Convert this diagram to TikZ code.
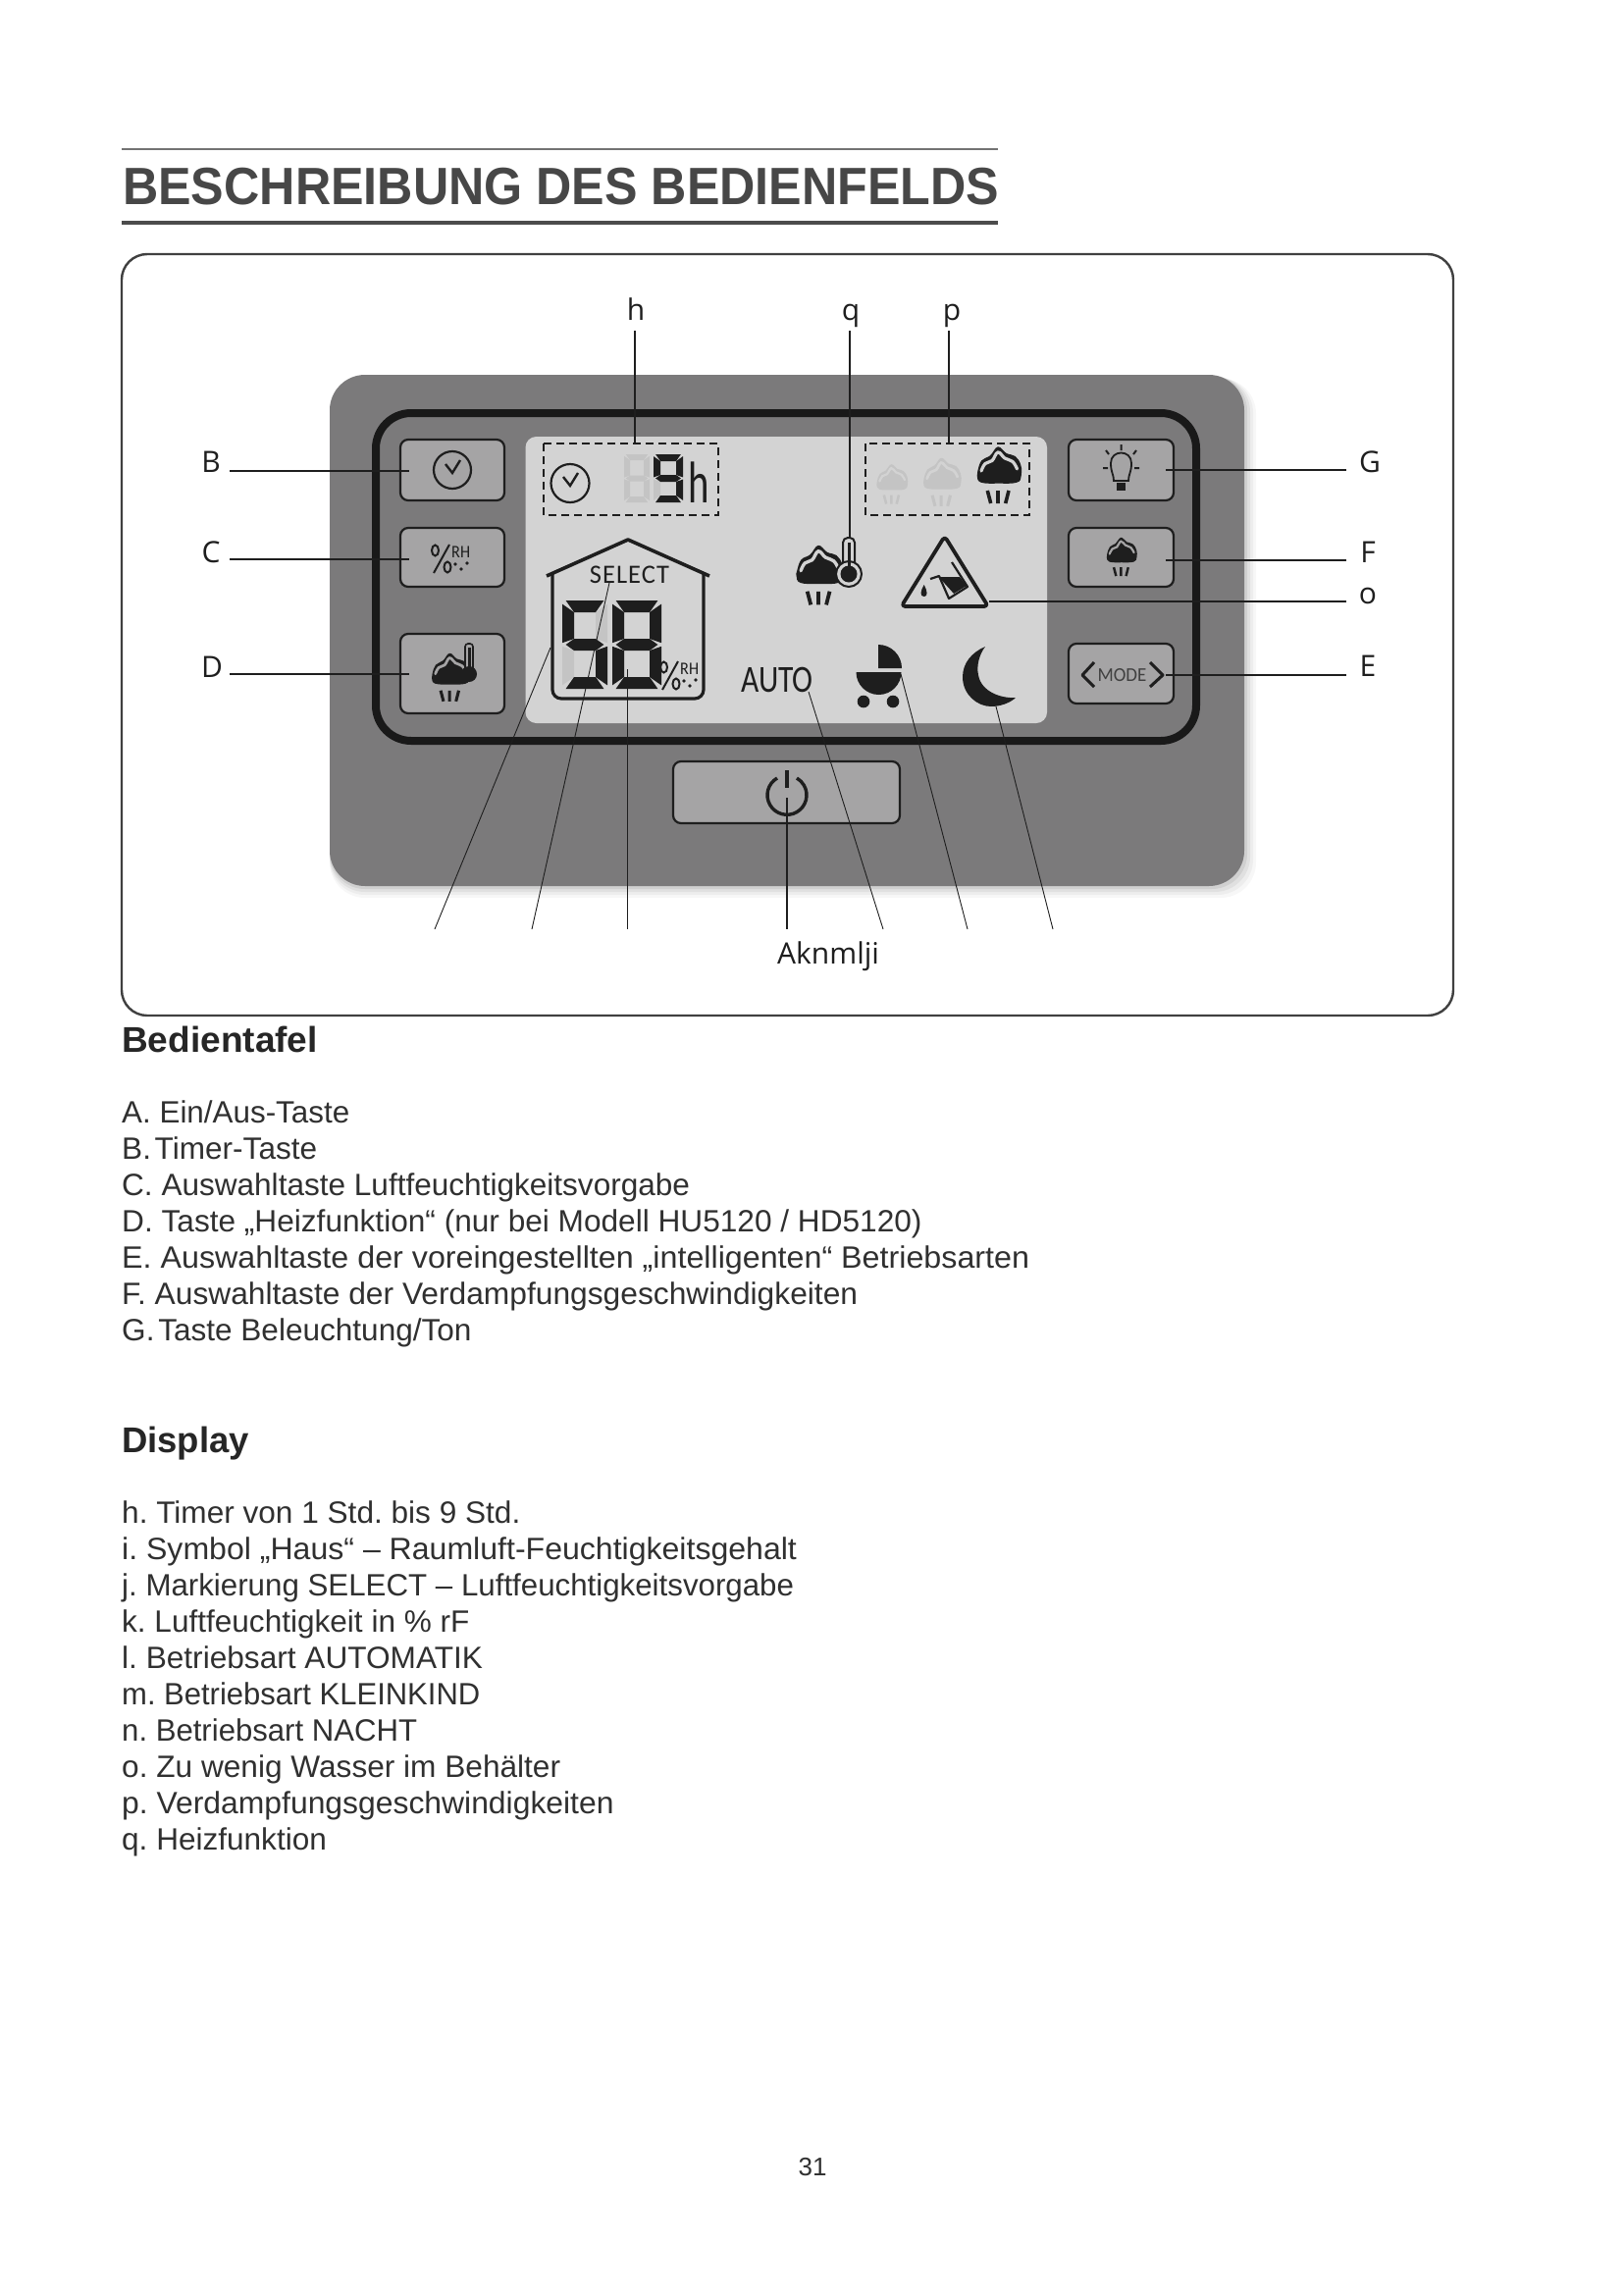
\documentclass[tikz,border=0pt]{standalone}
\usepackage{fontspec}
\setmainfont{Liberation Sans}
\newfontfamily\lblfont{Open Sans}
\newfontfamily\lcdfont{Carlito}
\usetikzlibrary{calc}
\frenchspacing
\definecolor{panelc}{HTML}{7B7A7B}
\definecolor{lcdc}{HTML}{D3D3D3}
\definecolor{btnc}{HTML}{A5A4A5}
\definecolor{inkc}{HTML}{1E1E1E}
\definecolor{fadec}{HTML}{C4C4C4}
\definecolor{txtc}{HTML}{303030}
\newcommand{\fsz}[1]{\fontsize{#1}{#1}\selectfont}
\newcommand{\sx}[2]{\scalebox{#1}[1]{#2}}
% seven segment pieces
\def\Wd{40}\def\Hg{60}\def\Tg{8}
\newcommand{\sgA}[1]{\fill[#1] (.3*\Tg,0)--(\Wd-.3*\Tg,0)--(\Wd-\Tg,\Tg)--(\Tg,\Tg)--cycle;}
\newcommand{\sgB}[1]{\fill[#1] (\Wd,.3*\Tg)--(\Wd,\Hg/2-.15*\Tg)--(\Wd-\Tg,\Hg/2-.5*\Tg)--(\Wd-\Tg,\Tg)--cycle;}
\newcommand{\sgC}[1]{\fill[#1] (\Wd,\Hg/2+.15*\Tg)--(\Wd,\Hg-.3*\Tg)--(\Wd-\Tg,\Hg-\Tg)--(\Wd-\Tg,\Hg/2+.5*\Tg)--cycle;}
\newcommand{\sgD}[1]{\fill[#1] (.3*\Tg,\Hg)--(\Wd-.3*\Tg,\Hg)--(\Wd-\Tg,\Hg-\Tg)--(\Tg,\Hg-\Tg)--cycle;}
\newcommand{\sgE}[1]{\fill[#1] (0,\Hg/2+.15*\Tg)--(0,\Hg-.3*\Tg)--(\Tg,\Hg-\Tg)--(\Tg,\Hg/2+.5*\Tg)--cycle;}
\newcommand{\sgF}[1]{\fill[#1] (0,.3*\Tg)--(0,\Hg/2-.15*\Tg)--(\Tg,\Hg/2-.5*\Tg)--(\Tg,\Tg)--cycle;}
\newcommand{\sgG}[1]{\fill[#1] (.3*\Tg,\Hg/2)--(\Tg,\Hg/2-.5*\Tg)--(\Wd-\Tg,\Hg/2-.5*\Tg)--(\Wd-.3*\Tg,\Hg/2)--(\Wd-\Tg,\Hg/2+.5*\Tg)--(\Tg,\Hg/2+.5*\Tg)--cycle;}
% cloud icon: x, y, scale, ink, background
\newcommand{\cloudicon}[5]{%
\begin{scope}[shift={(#1,#2)},scale=#3]
\fill[#4] plot[smooth cycle,tension=.7] coordinates {(-21.7,-5)(-17.7,-15.7)(-9,-20.7)(-1,-29.7)(7.7,-23)(16.7,-20)(22.3,-11)(22.7,0)(18.3,6.7)(0,7.7)(-18.3,6.7)(-22.3,0)};
\draw[#5,line width=#3*3.2pt,line cap=round] plot[smooth,tension=.7] coordinates {(-18,-5)(-14,-12.5)(-7,-15.5)(-1,-24)(6,-18)(14,-14.5)(18.5,-7)};
\draw[#4,line width=#3*3.6pt] (-11.7,15)--(-8.3,28) (-1,15)--(-1,28) (10,15)--(6.7,28);
\end{scope}}
% percent RH sign: left x, top y
\newcommand{\pctrh}[2]{%
\begin{scope}[shift={(#1,#2)}]
\draw[inkc,line width=2pt] (4.5,6) ellipse (3.5 and 5.5) (17,23) ellipse (3.5 and 5.5) (19,0)--(3,29);
\node[inkc,inner sep=0,anchor=base west] (rh#1) at (21,13) {\lcdfont\fsz{18}\scalebox{.9}[1]{RH}};
\fill[inkc] (25,20) circle (1.8) (31,25) circle (1.8) (37,19) circle (1.8);
\end{scope}}
\tikzset{
 btnbox/.style={draw=inkc,line width=2.2pt,fill=btnc,rounded corners=8pt,inner sep=0,outer sep=0},
 leadline/.style={draw=inkc,line width=1.5pt},
 thinlead/.style={draw=inkc,line width=.9pt},
 bodyline/.style={text=txtc,inner sep=0,anchor=base west,font=\fsz{31.4}},
 headline/.style={text=black!85,inner sep=0,anchor=base west,font=\bfseries\fsz{36.5}},
 keylabel/.style={inner sep=0,text=inkc,anchor=base,font=\lblfont\fsz{30}},
}
\begin{document}
\begin{tikzpicture}[x=1pt,y=-1pt]
\useasboundingbox[fill=white] (0,0) rectangle (1654,2339);
% title
\draw[draw=black!55,line width=2.8pt] (124,152)--(1017,152);
\draw[draw=black!70,line width=4pt] (124,227)--(1017,227);
\node[inner sep=0,anchor=base west,text=black!72] (title) at (125,208) {\bfseries\fsz{53.5}\sx{.939}{BESCHREIBUNG DES BEDIENFELDS}};
% outer box
\draw[draw=black!75,line width=2.4pt,rounded corners=26pt] (124,259) rectangle (1481,1035);
% panel with soft shadow
\foreach \d/\o in {12/.03,9/.04,6/.05,3/.07}{
 \fill[black,opacity=\o,rounded corners=36pt] (336,382+\d*.3) rectangle (1268+\d,903+\d);}
\fill[panelc,rounded corners=36pt] (336,382) rectangle (1268,903);
\draw[draw=black!90,line width=8pt,rounded corners=36pt] (383,421) rectangle (1219,755);
\fill[lcdc,rounded corners=11pt] (535.5,445) rectangle (1067,737);
% buttons
\node[btnbox,minimum width=106pt,minimum height=62pt] (btnB) at (461,479) {};
\node[btnbox,minimum width=106pt,minimum height=60pt] (btnC) at (461,568) {};
\node[btnbox,minimum width=106pt,minimum height=81pt] (btnD) at (461,686.5) {};
\node[btnbox,minimum width=107pt,minimum height=62pt] (btnG) at (1142.5,479) {};
\node[btnbox,minimum width=107pt,minimum height=60pt] (btnF) at (1142.5,568) {};
\node[btnbox,minimum width=107pt,minimum height=61pt] (btnE) at (1142.5,686.5) {};
\node[btnbox,minimum width=231pt,minimum height=63pt] (btnA) at (801.5,807.5) {};
% button icons
\draw[inkc,line width=2.2pt] (461,479) circle (19);
\draw[inkc,line width=2.4pt] (454,473)--(461,482)--(469,469);
\pctrh{439}{555}
\cloudicon{459}{691}{.85}{inkc}{btnc}
\draw[inkc,line width=1.6pt,fill=btnc,rounded corners=3pt] (474,690)--(474,656)--(482,656)--(482,690);
\fill[inkc] (478,687) circle (8);
\draw[inkc,line width=3pt] (478,660)--(478,685);
\draw[inkc,line width=1.8pt] (1135,490) .. controls (1135,483) and (1132,482) .. (1132,472) .. controls (1132,458) and (1153,458) .. (1153,472) .. controls (1153,482) and (1150,483) .. (1150,490) -- cycle;
\fill[inkc] (1138,492) rectangle (1147,500);
\draw[inkc,line width=2pt] (1124,477)--(1129,477) (1156,477)--(1161,477) (1130,463)--(1127,459) (1155,463)--(1158,459) (1142.5,459)--(1142.5,453);
\cloudicon{1143}{568}{.68}{inkc}{btnc}
\draw[inkc,line width=3pt,line join=round] (1115,675)--(1103,688)--(1115,700) (1172,675)--(1185,688)--(1172,700);
\node[black!75,inner sep=0] (modetxt) at (1143.5,688.5) {\lcdfont\fsz{20}\sx{.95}{MODE}};
\draw[inkc,line width=3.4pt] (792,793) arc[start angle=240,end angle=-60,radius=20];
\draw[inkc,line width=3.4pt] (802,785)--(802,803);
% dashed boxes
\draw[inkc,dash pattern=on 8pt off 5pt,line width=1.7pt] (554,452) rectangle (732,525);
\draw[inkc,dash pattern=on 8pt off 5pt,line width=1.7pt] (882,452) rectangle (1049,525);
% timer
\draw[inkc,line width=2.2pt] (581,492.5) circle (19.5);
\draw[inkc,line width=2.4pt] (574,486)--(581,495)--(589,482);
\begin{scope}[shift={(636,463)}]
\def\Wd{26}\def\Hg{49}\def\Tg{6}
\sgA{fadec}\sgB{fadec}\sgC{fadec}\sgD{fadec}\sgE{fadec}\sgF{fadec}\sgG{fadec}
\end{scope}
\begin{scope}[shift={(666,463)}]
\def\Wd{30}\def\Hg{49}\def\Tg{7}
\sgE{fadec}
\sgA{inkc}\sgB{inkc}\sgC{inkc}\sgD{inkc}\sgF{inkc}\sgG{inkc}
\end{scope}
\node[inner sep=0,anchor=base west,text=inkc] (hunit) at (701,512) {\lcdfont\fsz{60}\sx{.68}{h}};
% fan speeds
\cloudicon{909}{494}{.7}{fadec}{lcdc}
\cloudicon{960}{492}{.85}{fadec}{lcdc}
\cloudicon{1018}{485}{1}{inkc}{lcdc}
% house
\draw[inkc,line width=3.6pt,line join=round] (557,587)--(640,550)--(723,587);
\draw[inkc,line width=3.2pt,rounded corners=9pt] (563,585)--(563,712)--(717,712)--(717,585);
\node[inkc,inner sep=0] (selecttxt) at (641.5,585.5) {\lcdfont\fsz{27}\sx{.98}{S\kern1pt E\kern1pt L\kern1pt E\kern1pt C\kern1pt T}};
\begin{scope}[shift={(573,612)}]
\def\Wd{46}\def\Hg{90}\def\Tg{12}
\sgE{fadec}\sgB{fadec}
\sgA{inkc}\sgC{inkc}\sgD{inkc}\sgF{inkc}\sgG{inkc}
\end{scope}
\begin{scope}[shift={(624,612)}]
\def\Wd{50}\def\Hg{90}\def\Tg{12}
\sgA{inkc}\sgB{inkc}\sgC{inkc}\sgD{inkc}\sgE{inkc}\sgF{inkc}\sgG{inkc}
\end{scope}
\pctrh{672}{674}
% heater
\cloudicon{835}{587}{1.05}{inkc}{lcdc}
\draw[inkc,line width=2pt,fill=lcdc,rounded corners=5pt] (859,580)--(859,548)--(871,548)--(871,580);
\draw[inkc,line width=2pt,fill=lcdc] (865,585) circle (13);
\fill[inkc] (865,585) circle (8.5);
\draw[inkc,line width=3pt] (865,553)--(865,582);
% warning sign
\draw[inkc,line width=3.8pt,line join=round,rounded corners=4pt] (962.7,546.5)--(1007,618)--(918.5,618)--cycle;
\fill[inkc] (956.7,588)--(978,588)--(985,597)--(972,605)--cycle;
\draw[inkc,line width=2.2pt,line join=round] (948,590)--(957,587)--(967,610)--(986,598)--(970,573);
\fill[inkc] (941.7,596) .. controls (938,602) and (937,608) .. (941.7,608) .. controls (946,608) and (945,602) .. (941.7,596);
% auto, stroller, moon
\node[inkc,inner sep=0,anchor=base west] (autotxt) at (755,705) {\lcdfont\fsz{39}\sx{.81}{AUTO}};
\fill[inkc] (895,657) arc[start angle=-90,end angle=0,radius=24] -- (895,681) -- cycle;
\fill[inkc] (872.5,685) -- (918.5,685) arc[start angle=0,end angle=180,radius=23] -- cycle;
\fill[inkc] (880,715) circle (6.3) (910,715) circle (6.3);
\fill[inkc] (1004,659) .. controls (990,665) and (981,676) .. (981,690) .. controls (981,708) and (996,720) .. (1010,720) .. controls (1020,720) and (1030,716) .. (1035,711) .. controls (1020,712) and (1000,705) .. (997,688) .. controls (995,678) and (998,667) .. (1004,659) -- cycle;
% labels
\node[keylabel] (lh) at (648,326) {h};
\node[keylabel] (lq) at (867,326) {q};
\node[keylabel] (lp) at (970,326) {p};
\node[keylabel] (lB) at (215,481) {B};
\node[keylabel] (lC) at (215,573) {C};
\node[keylabel] (lD) at (216,690) {D};
\node[keylabel] (lG) at (1396,481) {G};
\node[keylabel] (lF) at (1394,573) {F};
\node[keylabel] (lo) at (1394,615) {o};
\node[keylabel] (lE) at (1394,689) {E};
\node[keylabel,anchor=base west] (lbot) at (792,982) {Aknmlji};
% connector ends
\coordinate (hT) at (647,337); \coordinate (hB) at (647,452);
\coordinate (qT) at (866,337); \coordinate (qB) at (866,547);
\coordinate (pT) at (967,337); \coordinate (pB) at (967,452);
\coordinate (bL) at (234,480); \coordinate (bR) at (417,480);
\coordinate (cL) at (234,570); \coordinate (cR) at (417,570);
\coordinate (dL) at (234,687); \coordinate (dR) at (417,687);
\coordinate (gR) at (1372,479); \coordinate (gL) at (1188,479);
\coordinate (fR) at (1372,571); \coordinate (fL) at (1188,571);
\coordinate (oR) at (1372,613); \coordinate (oL) at (1008,613);
\coordinate (eR) at (1372,688); \coordinate (eL) at (1188,688);
\coordinate (iT) at (561,660); \coordinate (iB) at (443,947);
\coordinate (jT) at (621,594); \coordinate (jB) at (542,947);
\coordinate (kT) at (639.5,682); \coordinate (kB) at (639.5,947);
\coordinate (aT) at (802,813); \coordinate (aB) at (802,947);
\coordinate (lT) at (824,705); \coordinate (lB2) at (900,947);
\coordinate (mT) at (918,687); \coordinate (mB) at (986,947);
\coordinate (nT) at (1015,720); \coordinate (nB) at (1073,947);
\draw[leadline] (hT)--(hB) (qT)--(qB) (pT)--(pB) (bL)--(bR) (cL)--(cR) (dL)--(dR) (gL)--(gR) (fL)--(fR) (oL)--(oR) (eL)--(eR) (kT)--(kB) (aT)--(aB);
\draw[thinlead] (iT)--(iB) (jT)--(jB) (lT)--(lB2) (mT)--(mB) (nT)--(nB);
% texts
\node[headline] (h1) at (124,1072) {\sx{1.015}{Bedientafel}};
\node[bodyline] (a1) at (124,1144) {A. Ein/Aus-Taste};
\node[bodyline] (a2) at (124,1181) {\sx{1.005}{B.\kern-5pt{} Timer-Taste}};
\node[bodyline] (a3) at (124,1218) {\sx{1.005}{C. Auswahltaste Luftfeuchtigkeitsvorgabe}};
\node[bodyline] (a4) at (124,1255) {\sx{1.007}{D. Taste „Heizfunktion“ (nur bei Modell HU5120 / HD5120)}};
\node[bodyline] (a5) at (124,1292) {\sx{1.027}{E. Auswahltaste der voreingestellten „intelligenten“ Betriebsarten}};
\node[bodyline] (a6) at (124,1329) {\sx{1.011}{F. Auswahltaste der Verdampfungsgeschwindigkeiten}};
\node[bodyline] (a7) at (124,1366) {\sx{1.005}{G.\kern-5pt{} Taste Beleuchtung/Ton}};
\node[headline] (h2) at (124,1480) {Display};
\node[bodyline] (b1) at (124,1552) {\sx{1.006}{h. Timer von 1 Std. bis 9 Std.}};
\node[bodyline] (b2) at (124,1589) {\sx{1.021}{i. Symbol „Haus“ – Raumluft-Feuchtigkeitsgehalt}};
\node[bodyline] (b3) at (124,1626) {\sx{.996}{j. Markierung SELECT – Luftfeuchtigkeitsvorgabe}};
\node[bodyline] (b4) at (124,1663) {\sx{1.005}{k. Luftfeuchtigkeit in \% rF}};
\node[bodyline] (b5) at (124,1700) {\sx{1.007}{l. Betriebsart AUTOMATIK}};
\node[bodyline] (b6) at (124,1737) {\sx{.987}{m. Betriebsart KLEINKIND}};
\node[bodyline] (b7) at (124,1774) {\sx{.991}{n. Betriebsart NACHT}};
\node[bodyline] (b8) at (124,1811) {\sx{1.007}{o. Zu wenig Wasser im Behälter}};
\node[bodyline] (b9) at (124,1848) {\sx{1.015}{p. Verdampfungsgeschwindigkeiten}};
\node[bodyline] (b10) at (124,1885) {\sx{1.005}{q. Heizfunktion}};
\node[inner sep=0,anchor=base,text=txtc,font=\fsz{26}] (pg) at (828,2217) {31};
\end{tikzpicture}
\end{document}
